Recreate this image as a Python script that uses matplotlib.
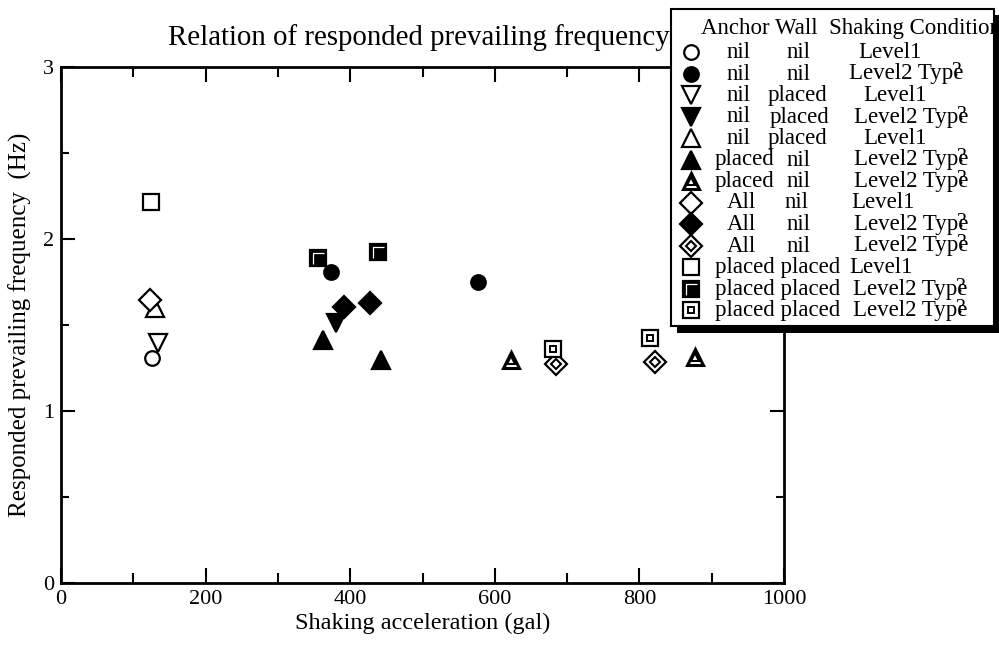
import matplotlib
matplotlib.use("Agg")
import matplotlib.pyplot as plt
from matplotlib.path import Path
from matplotlib.patches import Rectangle

plt.rcParams['font.family'] = ['Liberation Serif', 'DejaVu Serif']

# ---- data (x: shaking acceleration gal, y: frequency Hz) ----
s1_x = [126];        s1_y = [1.31]          # nil nil Level1
s2_x = [374, 577];   s2_y = [1.81, 1.752]   # nil nil Level2
s3_x = [134];        s3_y = [1.394]         # nil placed Level1
s4_x = [381];        s4_y = [1.51]          # nil placed Level2
s5_x = [130];        s5_y = [1.60]          # nil placed Level1
s6_x = [362, 443];   s6_y = [1.413, 1.297]  # placed nil Level2
s7_x = [622, 877];   s7_y = [1.297, 1.316]  # placed nil Level2
s8_x = [123];        s8_y = [1.645]         # All nil Level1
s9_x = [391, 427];   s9_y = [1.607, 1.626]  # All nil Level2
s10_x = [685, 822];  s10_y = [1.273, 1.283] # All nil Level2
s11_x = [125];       s11_y = [2.217]        # placed placed Level1
s12_x = [355, 438];  s12_y = [1.891, 1.926] # placed placed Level2
s13_x = [681, 815];  s13_y = [1.36, 1.426]  # placed placed Level2

anchor = ['nil', 'nil', 'nil', 'nil', 'nil', 'placed', 'placed', 'All', 'All', 'All',
          'placed', 'placed', 'placed']
wall = ['nil', 'nil', 'placed', 'placed', 'placed', 'nil', 'nil', 'nil', 'nil', 'nil',
        'placed', 'placed', 'placed']
condition = ['Level1', 'Level2 Type', 'Level1', 'Level2 Type', 'Level1', 'Level2 Type',
             'Level2 Type', 'Level1', 'Level2 Type', 'Level2 Type', 'Level1',
             'Level2 Type', 'Level2 Type']
kinds = ['o_open', 'o_fill', 'v_open', 'v_fill', '^_open', '^_fill', '^_double',
         'D_open', 'D_fill', 'D_double', 's_open', 's_L', 's_double']
series_x = [s1_x, s2_x, s3_x, s4_x, s5_x, s6_x, s7_x, s8_x, s9_x, s10_x, s11_x, s12_x, s13_x]
series_y = [s1_y, s2_y, s3_y, s4_y, s5_y, s6_y, s7_y, s8_y, s9_y, s10_y, s11_y, s12_y, s13_y]

xticks_major = [0, 200, 400, 600, 800, 1000]
yticks_major = [0, 1, 2, 3]

# ---- marker helpers ----
L_path = Path([(-1, -1), (1, 1), (-0.62, -0.72), (-0.62, 0.62), (0.72, 0.62)],
              [Path.MOVETO, Path.MOVETO, Path.MOVETO, Path.LINETO, Path.LINETO])

EW = 1.6

def draw(ax, x, y, kind, z=3):
    kw = dict(linestyle='none', clip_on=False, zorder=z)
    if kind in ('o_open', 'o_fill'):
        ax.plot(x, y, marker='o', ms=10.5, mec='black', mew=EW,
                mfc='white' if kind == 'o_open' else 'black', **kw)
    elif kind in ('v_open', 'v_fill'):
        ax.plot(x, y, marker='v', ms=12.5, mec='black', mew=EW,
                mfc='white' if kind == 'v_open' else 'black', **kw)
    elif kind in ('^_open', '^_fill'):
        ax.plot(x, y, marker='^', ms=12.5, mec='black', mew=EW,
                mfc='white' if kind == '^_open' else 'black', **kw)
    elif kind == '^_double':
        ax.plot(x, y, marker='^', ms=12, mec='black', mew=2.2, mfc='white', **kw)
        ax.plot(x, y, marker='^', ms=5.5, mec='black', mew=1.5, mfc='white', **kw)
    elif kind in ('D_open', 'D_fill'):
        ax.plot(x, y, marker='D', ms=11, mec='black', mew=EW,
                mfc='white' if kind == 'D_open' else 'black', **kw)
    elif kind == 'D_double':
        ax.plot(x, y, marker='D', ms=11, mec='black', mew=EW, mfc='white', **kw)
        ax.plot(x, y, marker='D', ms=5.5, mec='black', mew=1.5, mfc='white', **kw)
    elif kind == 's_open':
        ax.plot(x, y, marker='s', ms=11, mec='black', mew=EW, mfc='white', **kw)
    elif kind == 's_L':
        ax.plot(x, y, marker='s', ms=11, mec='black', mew=EW, mfc='black', **kw)
        ax.plot(x, y, marker=L_path, ms=11, mec='white', mew=0.9, mfc='none', **kw)
    elif kind == 's_double':
        ax.plot(x, y, marker='s', ms=11, mec='black', mew=EW, mfc='white', **kw)
        ax.plot(x, y, marker='s', ms=4.5, mec='black', mew=1.4, mfc='white', **kw)

W, H = 999, 646
fig = plt.figure(figsize=(W / 100, H / 100), dpi=100)
ax = fig.add_axes([61 / W, 1 - 583 / H, (784 - 61) / W, (583 - 67) / H])

for xs, ys, k in zip(series_x, series_y, kinds):
    draw(ax, xs, ys, k)

ax.set_xlim(0, 1000)
ax.set_ylim(0, 3)
ax.set_xticks(xticks_major)
ax.set_xticks([100, 300, 500, 700, 900], minor=True)
ax.set_yticks(yticks_major)
ax.set_yticks([0.5, 1.5, 2.5], minor=True)
ax.tick_params(which='both', direction='in', top=True, right=True, width=1.5,
               labelsize=16, colors='black')
ax.tick_params(which='major', length=11, pad=5)
ax.tick_params(which='minor', length=7)
ax.tick_params(axis='y', which='major', length=10)
ax.tick_params(axis='y', which='minor', length=6)
for sp in ax.spines.values():
    sp.set_linewidth(2)
ax.set_xlabel('Shaking acceleration (gal)', fontsize=17.5, labelpad=3)
ax.set_ylabel('Responded prevailing frequency  (Hz)', fontsize=18, labelpad=8)

fig.text(670 / W, 1 - 45 / H, 'Relation of responded prevailing frequency',
         ha='right', va='baseline', fontsize=20.8)

# ---- legend overlay in pixel coordinates ----
ov = fig.add_axes([0, 0, 1, 1], zorder=10)
ov.set_xlim(0, W)
ov.set_ylim(H, 0)
ov.axis('off')
ov.patch.set_alpha(0)

ov.add_patch(Rectangle((677, 15), 330, 318, facecolor='black', edgecolor='none', zorder=1))
box = Rectangle((671, 9), 323, 317, facecolor='white', edgecolor='black', lw=1.5, zorder=2)
ov.add_patch(box)

fs = 16.5
hdr = ov.text(701, 34, 'Anchor Wall  Shaking Condition', fontsize=fs, ha='left',
              va='baseline', zorder=3)
hdr.set_clip_path(box)

row_y0, row_dy = 52, 21.5
col1 = [727, 727, 727, 727, 727, 715, 715, 727, 727, 727, 715, 715, 715]
col2 = [787, 787, 768, 770, 768, 787, 787, 785, 787, 787, None, None, None]
col3 = [858, 849, 863, 854, 863, 854, 854, 851, 854, 854, 849, 853, 853]

fig.canvas.draw()
rend = fig.canvas.get_renderer()
for i in range(13):
    yy = row_y0 + i * row_dy
    draw(ov, [691], [yy], kinds[i], z=5)
    base = yy + 6
    if col2[i] is None:
        ov.text(col1[i], base, anchor[i] + ' ' + wall[i], fontsize=fs, va='baseline', zorder=5)
    else:
        ov.text(col1[i], base, anchor[i], fontsize=fs, va='baseline', zorder=5)
        ov.text(col2[i], base, wall[i], fontsize=fs, va='baseline', zorder=5)
    t = ov.text(col3[i], base, condition[i], fontsize=fs, va='baseline', zorder=5)
    if condition[i] != 'Level1':
        bb = t.get_window_extent(renderer=rend)
        xr = bb.x1 - 2
        ov.text(xr, base - 3, '?', fontsize=fs - 1, ha='right', va='baseline', zorder=6)

fig.savefig('out.png', dpi=100)
